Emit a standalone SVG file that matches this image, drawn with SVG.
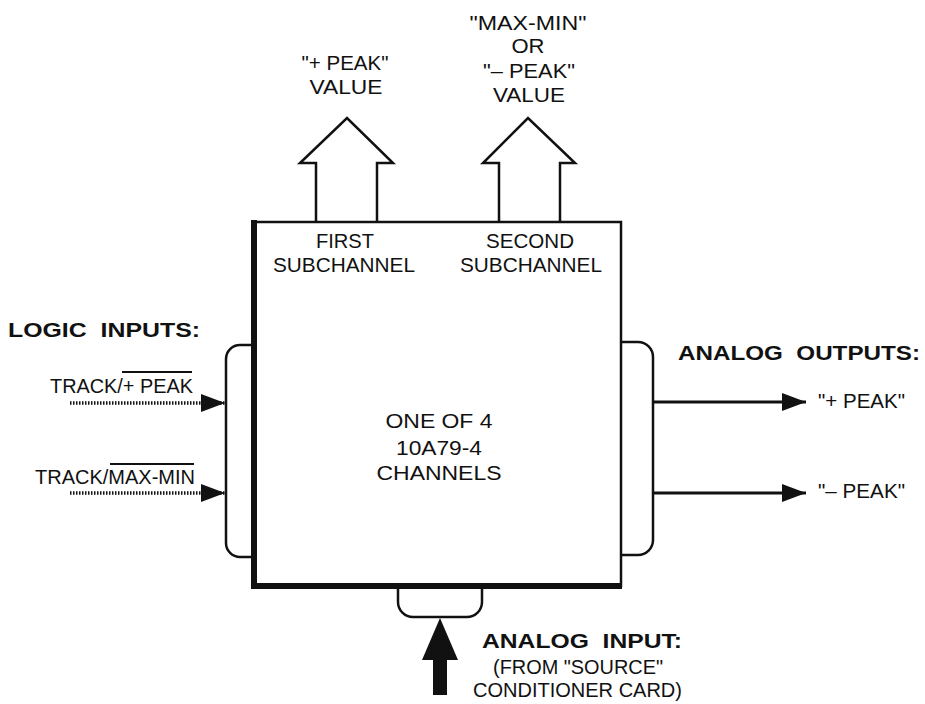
<svg xmlns="http://www.w3.org/2000/svg" width="925" height="704" viewBox="0 0 925 704">
<defs>
<style>
.t{font-family:"Liberation Sans",Arial,sans-serif;font-size:21px;fill:#111;}
.b{font-family:"Liberation Sans",Arial,sans-serif;font-size:21px;font-weight:bold;fill:#111;white-space:pre;}
.ln{fill:none;stroke:#111;stroke-width:2.5;}
.dot{fill:none;stroke:#111;stroke-width:3.5;stroke-dasharray:1.5 1.5;}
.wire{fill:none;stroke:#111;stroke-width:3;}
</style>
<marker id="ah" viewBox="0 0 24 18" refX="24" refY="9" markerWidth="24" markerHeight="18" markerUnits="userSpaceOnUse" orient="auto">
<path d="M0,0 L24,9 L0,18 Z" fill="#111"/>
</marker>
</defs>
<rect width="925" height="704" fill="#fff"/>

<g id="main-box">
<rect x="254" y="222" width="367" height="364" class="ln"/>
<line x1="254" y1="220" x2="254" y2="589" stroke="#111" stroke-width="6"/>
<line x1="251" y1="586" x2="622" y2="586" stroke="#111" stroke-width="6"/>
<text class="t" x="439" y="428" text-anchor="middle" textLength="107" lengthAdjust="spacingAndGlyphs">ONE OF 4</text>
<text class="t" x="439" y="455" text-anchor="middle" textLength="86" lengthAdjust="spacingAndGlyphs">10A79-4</text>
<text class="t" x="439" y="480" text-anchor="middle" textLength="125" lengthAdjust="spacingAndGlyphs">CHANNELS</text>
<text class="t" x="345" y="248" text-anchor="middle" textLength="58" lengthAdjust="spacingAndGlyphs">FIRST</text>
<text class="t" x="344" y="272" text-anchor="middle" textLength="142" lengthAdjust="spacingAndGlyphs">SUBCHANNEL</text>
<text class="t" x="530" y="248" text-anchor="middle" textLength="88" lengthAdjust="spacingAndGlyphs">SECOND</text>
<text class="t" x="531" y="272" text-anchor="middle" textLength="142" lengthAdjust="spacingAndGlyphs">SUBCHANNEL</text>
</g>

<g id="left-tab">
<path class="ln" d="M252,345 H240 A14,14 0 0 0 226,359 V543 A14,14 0 0 0 240,557 H252"/>
</g>
<g id="right-tab">
<path class="ln" d="M621,342 H638 A15,15 0 0 1 653,357 V540 A15,15 0 0 1 638,555 H621"/>
</g>
<g id="bottom-tab">
<path class="ln" d="M398,588 V602 A15,15 0 0 0 413,617 H467 A15,15 0 0 0 482,602 V588"/>
</g>

<g id="out-arrow-first">
<path class="ln" d="M316,222 V163 H300 L347,118 L393,163 H377 V222" fill="#fff"/>
<text class="t" x="345" y="70" text-anchor="middle" textLength="87" lengthAdjust="spacingAndGlyphs">"+ PEAK"</text>
<text class="t" x="346" y="94" text-anchor="middle" textLength="73" lengthAdjust="spacingAndGlyphs">VALUE</text>
</g>
<g id="out-arrow-second">
<path class="ln" d="M499,222 V163 H483 L528,118 L575,163 H560 V222" fill="#fff"/>
<text class="t" x="528" y="30" text-anchor="middle" textLength="117" lengthAdjust="spacingAndGlyphs">"MAX-MIN"</text>
<text class="t" x="528" y="53" text-anchor="middle" textLength="33" lengthAdjust="spacingAndGlyphs">OR</text>
<text class="t" x="529" y="78" text-anchor="middle" textLength="92" lengthAdjust="spacingAndGlyphs">"– PEAK"</text>
<text class="t" x="529" y="102" text-anchor="middle" textLength="72" lengthAdjust="spacingAndGlyphs">VALUE</text>
</g>

<g id="logic-inputs">
<text class="b" x="8" y="337" textLength="192" lengthAdjust="spacingAndGlyphs">LOGIC  INPUTS:</text>
<text class="t" x="50" y="393" textLength="143" lengthAdjust="spacingAndGlyphs">TRACK/+ PEAK</text>
<line x1="122" y1="372" x2="192" y2="372" stroke="#111" stroke-width="2"/>
<text class="t" x="35" y="484" textLength="160" lengthAdjust="spacingAndGlyphs">TRACK/MAX-MIN</text>
<line x1="110" y1="464" x2="194" y2="464" stroke="#111" stroke-width="2"/>
</g>

<g id="analog-outputs">
<text class="b" x="678" y="360" textLength="242" lengthAdjust="spacingAndGlyphs">ANALOG  OUTPUTS:</text>
<text class="t" x="818" y="408" textLength="87" lengthAdjust="spacingAndGlyphs">"+ PEAK"</text>
<text class="t" x="818" y="498" textLength="87" lengthAdjust="spacingAndGlyphs">"– PEAK"</text>
</g>

<g id="analog-input">
<text class="b" x="482" y="648" textLength="200" lengthAdjust="spacingAndGlyphs">ANALOG  INPUT:</text>
<text class="t" x="493" y="674" textLength="170" lengthAdjust="spacingAndGlyphs">(FROM "SOURCE"</text>
<text class="t" x="473" y="697" textLength="209" lengthAdjust="spacingAndGlyphs">CONDITIONER CARD)</text>
</g>

<g id="connectors">
<line class="dot" x1="70" y1="403" x2="225" y2="403" marker-end="url(#ah)"/>
<line class="dot" x1="70" y1="493" x2="225" y2="493" marker-end="url(#ah)"/>
<line class="wire" x1="653" y1="402" x2="806" y2="402" marker-end="url(#ah)"/>
<line class="wire" x1="653" y1="493" x2="806" y2="493" marker-end="url(#ah)"/>
<path d="M440,618 L458,660 H447 V695 H433 V660 H422 Z" fill="#111"/>
</g>
</svg>
